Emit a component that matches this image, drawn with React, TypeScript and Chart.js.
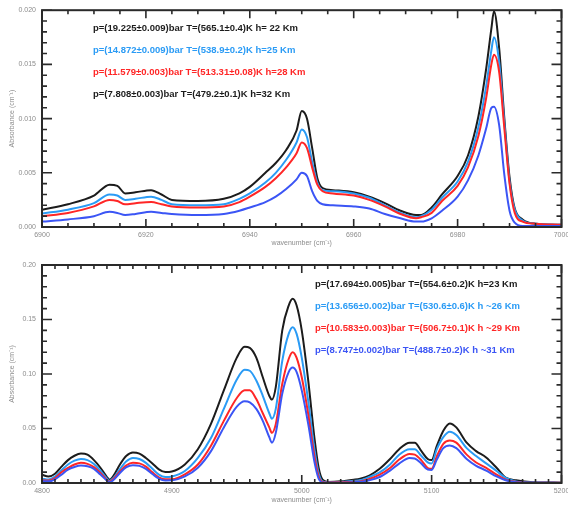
import { useEffect, useRef } from "react";
import { Chart, registerables } from "chart.js";

Chart.register(...registerables);

// ---------- Top panel data ----------
const topWave = [
  6900, 6905, 6910, 6913, 6914.5, 6916, 6918, 6921, 6923, 6925, 6930, 6935, 6938, 6940, 6943,
  6945, 6947, 6949, 6950, 6951, 6952, 6953, 6954, 6956, 6960, 6963, 6966, 6969, 6972, 6973,
  6975, 6977, 6980, 6982, 6984, 6985.5, 6986.5, 6987, 6988, 6989, 6990, 6991, 6992.5, 6995, 7000,
];
const topBlack = [
  0.0016, 0.0021, 0.0029, 0.0039, 0.0038, 0.0031, 0.0032, 0.0034, 0.003, 0.0025, 0.0024, 0.0026,
  0.0031, 0.0037, 0.005, 0.0059, 0.0071, 0.0089, 0.0107, 0.01, 0.0073, 0.0045, 0.0036, 0.0034,
  0.0032, 0.0028, 0.0022, 0.0015, 0.0011, 0.0011, 0.0018, 0.003, 0.0047, 0.0066, 0.0102, 0.0146,
  0.0183, 0.0199, 0.0165, 0.01, 0.0046, 0.0017, 0.0007, 0.0003, 0.0002,
];
const topLightBlue = [
  0.00125, 0.0016, 0.0022, 0.003, 0.0029, 0.0025, 0.0026, 0.0028, 0.0025, 0.0021, 0.002, 0.0021,
  0.0026, 0.0031, 0.0041, 0.005, 0.0062, 0.0078, 0.009, 0.0083, 0.006, 0.0041, 0.0034, 0.0033,
  0.0031, 0.0027, 0.002, 0.0013, 0.0009, 0.001, 0.0016, 0.0027, 0.0042, 0.006, 0.0092, 0.013,
  0.0163, 0.0175, 0.0152, 0.0096, 0.0042, 0.0016, 0.0006, 0.0003, 0.0002,
];
const topRed = [
  0.001, 0.0013, 0.0019, 0.0025, 0.0024, 0.0021, 0.0022, 0.0023, 0.0021, 0.0019, 0.0018, 0.0019,
  0.0023, 0.0028, 0.0037, 0.0045, 0.0055, 0.0068, 0.0078, 0.0073, 0.0055, 0.0039, 0.0033, 0.0031,
  0.0029, 0.0025, 0.0019, 0.0012, 0.0008, 0.0009, 0.0013, 0.0024, 0.0038, 0.0055, 0.0084, 0.0119,
  0.015, 0.0159, 0.0143, 0.0091, 0.004, 0.0013, 0.0005, 0.0003, 0.0002,
];
const topBlue = [
  0.0005, 0.0007, 0.001, 0.0014, 0.0013, 0.0011, 0.0012, 0.0014, 0.0013, 0.0012, 0.0011, 0.0012,
  0.0015, 0.0018, 0.0023, 0.0028, 0.0035, 0.0044, 0.005, 0.0047, 0.0033, 0.0024, 0.0021, 0.002,
  0.0019, 0.0017, 0.0012, 0.0008, 0.0005, 0.0005, 0.0008, 0.0015, 0.0028, 0.0043, 0.0066, 0.0091,
  0.011, 0.0111, 0.0094, 0.0048, 0.0015, 0.0004, 0.0001, 0.0001, 0.0001,
];
const topLabels = [
  "p=(19.225±0.009)bar T=(565.1±0.4)K h= 22 Km",
  "p=(14.872±0.009)bar T=(538.9±0.2)K h=25 Km",
  "p=(11.579±0.003)bar T=(513.31±0.08)K h=28 Km",
  "p=(7.808±0.003)bar T=(479.2±0.1)K h=32 Km",
];

// ---------- Bottom panel data ----------
const botWave = [
  4800, 4805, 4810, 4815, 4820, 4825, 4830, 4835, 4840, 4845, 4850, 4852, 4855, 4860, 4865, 4870,
  4875, 4880, 4885, 4890, 4895, 4900, 4910, 4920, 4930, 4940, 4950, 4956, 4960, 4965, 4970, 4975,
  4977, 4980, 4985, 4990, 4993, 4996, 5000, 5005, 5010, 5013, 5016, 5020, 5030, 5040, 5045, 5052,
  5060, 5068, 5075, 5083, 5087, 5092, 5097, 5100, 5104, 5109, 5114, 5119, 5127, 5134, 5142, 5150,
  5157, 5165, 5178, 5200,
];
const botBlack = [
  0.0075, 0.006, 0.0085, 0.015, 0.021, 0.025, 0.027, 0.026, 0.021, 0.014, 0.0055, 0.003, 0.0065,
  0.017, 0.025, 0.028, 0.027, 0.023, 0.018, 0.0125, 0.01, 0.0105, 0.017, 0.031, 0.054, 0.085,
  0.115, 0.125, 0.124, 0.115, 0.097, 0.08, 0.0765, 0.088, 0.14, 0.163, 0.169, 0.163, 0.14, 0.094,
  0.039, 0.014, 0.003, 0.001, 0.0015, 0.003, 0.004, 0.0068, 0.013, 0.022, 0.031, 0.037, 0.037,
  0.0295, 0.022, 0.021, 0.034, 0.048, 0.0547, 0.051, 0.037, 0.0295, 0.0234, 0.014, 0.005, 0.0025,
  0.0007, 0.0003,
];
const botLightBlue = [
  0.004, 0.0031, 0.006, 0.0116, 0.017, 0.0205, 0.022, 0.021, 0.0175, 0.0113, 0.004, 0.0018, 0.0046,
  0.0128, 0.02, 0.023, 0.022, 0.0185, 0.013, 0.0077, 0.0055, 0.006, 0.011, 0.023, 0.041, 0.068,
  0.095, 0.104, 0.103, 0.094, 0.08, 0.064, 0.059, 0.068, 0.112, 0.137, 0.143, 0.137, 0.115, 0.075,
  0.029, 0.009, 0.0015, 0.0008, 0.001, 0.002, 0.0025, 0.0055, 0.0098, 0.017, 0.026, 0.031, 0.031,
  0.025, 0.019, 0.018, 0.031, 0.042, 0.047, 0.044, 0.032, 0.025, 0.018, 0.011, 0.0046, 0.0015,
  0.0004, 0.0002,
];
const botRed = [
  0.0025, 0.0022, 0.0046, 0.0098, 0.0138, 0.017, 0.0185, 0.0175, 0.0145, 0.0092, 0.0028, 0.001,
  0.0037, 0.0107, 0.0163, 0.0185, 0.018, 0.015, 0.0098, 0.0052, 0.0034, 0.0035, 0.008, 0.017,
  0.034, 0.057, 0.078, 0.085, 0.085, 0.077, 0.064, 0.051, 0.046, 0.054, 0.091, 0.114, 0.12, 0.115,
  0.097, 0.063, 0.023, 0.006, 0.001, 0.0005, 0.0006, 0.0012, 0.0015, 0.0037, 0.0077, 0.0138,
  0.0215, 0.0267, 0.026, 0.021, 0.0138, 0.013, 0.0245, 0.036, 0.039, 0.037, 0.026, 0.019, 0.0138,
  0.0077, 0.003, 0.001, 0.0003, 0.0002,
];
const botBlue = [
  0.0015, 0.0015, 0.0034, 0.0077, 0.0123, 0.0147, 0.016, 0.0153, 0.013, 0.0077, 0.0022, 0.0006,
  0.0028, 0.0092, 0.0145, 0.0163, 0.0157, 0.013, 0.0083, 0.004, 0.0024, 0.0025, 0.006, 0.014,
  0.029, 0.051, 0.07, 0.075, 0.074, 0.068, 0.057, 0.042, 0.037, 0.046, 0.082, 0.102, 0.106, 0.102,
  0.085, 0.054, 0.018, 0.004, 0.0005, 0.0003, 0.0003, 0.0008, 0.001, 0.0025, 0.0055, 0.0114,
  0.0178, 0.023, 0.0225, 0.018, 0.0123, 0.012, 0.0215, 0.032, 0.0345, 0.032, 0.022, 0.016, 0.0114,
  0.006, 0.0025, 0.0006, 0.0002, 0.0001,
];
const botLabels = [
  "p=(17.694±0.005)bar T=(554.6±0.2)K h=23 Km",
  "p=(13.656±0.002)bar T=(530.6±0.6)K h ~26 Km",
  "p=(10.583±0.003)bar T=(506.7±0.1)K h ~29 Km",
  "p=(8.747±0.002)bar T=(488.7±0.2)K h ~31 Km",
];

const xTitle = "wavenumber (cm⁻¹)";
const yTitle = "Absorbance (cm⁻¹)";

const lineColors = ["#1c1c1c", "#2a9bf5", "#ff2626", "#3b55f5"];
const topTextColors = ["#1c1c1c", "#2a9bf5", "#ff2626", "#1c1c1c"];
const botTextColors = ["#1c1c1c", "#2a9bf5", "#ff2626", "#3b55f5"];

const FONT = "'Liberation Sans', Arial, sans-serif";

const frameTicks = {
  id: "frameTicks",
  afterDatasetsDraw(chart: any, _args: any, opts: any) {
    const { ctx, chartArea: a } = chart;
    const x = chart.scales.x;
    const y = chart.scales.y;
    ctx.save();
    ctx.strokeStyle = "#2a2a2a";
    ctx.lineWidth = 2;
    ctx.strokeRect(a.left, a.top, a.right - a.left, a.bottom - a.top);
    ctx.lineWidth = 1.6;
    const nx = Math.round((x.max - x.min) / opts.xMinor);
    const perX = Math.round(opts.xMajor / opts.xMinor);
    for (let i = 0; i <= nx; i++) {
      const v = x.min + i * opts.xMinor;
      const px = x.getPixelForValue(v);
      const L = i % perX === 0 ? 8 : 4;
      ctx.beginPath();
      ctx.moveTo(px, a.bottom);
      ctx.lineTo(px, a.bottom - L);
      ctx.moveTo(px, a.top);
      ctx.lineTo(px, a.top + L);
      ctx.stroke();
    }
    const ny = Math.round((y.max - y.min) / opts.yMinor);
    const perY = Math.round(opts.yMajor / opts.yMinor);
    for (let i = 0; i <= ny; i++) {
      const v = y.min + i * opts.yMinor;
      const py = y.getPixelForValue(v);
      const L = i % perY === 0 ? 10 : 5;
      ctx.beginPath();
      ctx.moveTo(a.left, py);
      ctx.lineTo(a.left + L, py);
      ctx.moveTo(a.right, py);
      ctx.lineTo(a.right - L, py);
      ctx.stroke();
    }
    ctx.restore();
  },
};

const textLegend = {
  id: "textLegend",
  afterDraw(chart: any, _args: any, opts: any) {
    const { ctx } = chart;
    ctx.save();
    ctx.font = opts.font;
    ctx.textBaseline = "middle";
    ctx.textAlign = "left";
    opts.labels.forEach((t: string, i: number) => {
      ctx.fillStyle = opts.colors[i];
      ctx.fillText(t, opts.x, opts.y + i * opts.dy);
    });
    ctx.restore();
  },
};

function makeConfig(p: any) {
  const series = [p.black, p.lightBlue, p.red, p.blue];
  return {
    type: "line",
    data: {
      datasets: series.map((vals: number[], k: number) => ({
        label: p.labels[k],
        data: p.wave.map((w: number, i: number) => ({ x: w, y: vals[i] })),
        borderColor: lineColors[k],
        borderWidth: 2,
        pointRadius: 0,
        fill: false,
        cubicInterpolationMode: "monotone",
        order: 4 - k,
      })),
    },
    options: {
      responsive: false,
      animation: false,
      events: [],
      layout: { padding: { top: p.padTop, right: 6.5, left: 0, bottom: 0 } },
      plugins: {
        legend: { display: false },
        tooltip: { enabled: false },
        frameTicks: { xMinor: p.xMinor, xMajor: p.xMajor, yMinor: p.yMinor, yMajor: p.yMajor },
        textLegend: {
          labels: p.labels,
          colors: p.textColors,
          x: p.legX,
          y: p.legY,
          dy: 22,
          font: `bold 9.5px ${FONT}`,
        },
      },
      scales: {
        x: {
          type: "linear",
          min: p.xMin,
          max: p.xMax,
          grid: { display: false, drawTicks: false },
          border: { display: false },
          afterFit: (s: any) => {
            s.height = p.xAxisH;
            s.paddingRight = 0;
            s.paddingLeft = 0;
          },
          ticks: {
            stepSize: p.xMajor,
            padding: 4,
            color: "#8c8c8c",
            font: { family: FONT, size: 7 },
            maxRotation: 0,
            callback: (v: number) => String(v),
          },
          title: {
            display: true,
            text: xTitle,
            color: "#8c8c8c",
            font: { family: FONT, size: 7 },
            padding: { top: 0, bottom: p.xTitlePad },
          },
        },
        y: {
          type: "linear",
          min: p.yMin,
          max: p.yMax,
          grid: { display: false, drawTicks: false },
          border: { display: false },
          afterFit: (s: any) => {
            s.width = 42;
          },
          ticks: {
            stepSize: p.yMajor,
            padding: 6,
            color: "#8c8c8c",
            font: { family: FONT, size: 7 },
            callback: (v: number) => v.toFixed(p.yDec),
          },
          title: {
            display: true,
            text: yTitle,
            color: "#8c8c8c",
            font: { family: FONT, size: 7 },
            padding: { top: 8, bottom: 0 },
          },
        },
      },
    },
    plugins: [frameTicks, textLegend],
  };
}

function Panel(props: { cfg: any; height: number }) {
  const ref = useRef<HTMLCanvasElement | null>(null);
  useEffect(() => {
    if (!ref.current) return;
    const chart = new Chart(ref.current, props.cfg);
    return () => chart.destroy();
  }, []);
  return (
    <canvas
      ref={ref}
      width={568}
      height={props.height}
      style={{ display: "block", width: 568, height: props.height }}
    />
  );
}

export default function App() {
  const topCfg = makeConfig({
    wave: topWave,
    black: topBlack,
    lightBlue: topLightBlue,
    red: topRed,
    blue: topBlue,
    labels: topLabels,
    textColors: topTextColors,
    xMin: 6900,
    xMax: 7000,
    xMajor: 20,
    xMinor: 5,
    yMin: 0,
    yMax: 0.02,
    yMajor: 0.005,
    yMinor: 0.001,
    yDec: 3,
    padTop: 8,
    xAxisH: 23,
    xTitlePad: 3,
    legX: 93,
    legY: 28,
  });
  const botCfg = makeConfig({
    wave: botWave,
    black: botBlack,
    lightBlue: botLightBlue,
    red: botRed,
    blue: botBlue,
    labels: botLabels,
    textColors: botTextColors,
    xMin: 4800,
    xMax: 5200,
    xMajor: 100,
    xMinor: 10,
    yMin: 0,
    yMax: 0.2,
    yMajor: 0.05,
    yMinor: 0.01,
    yDec: 2,
    padTop: 15,
    xAxisH: 22,
    xTitlePad: 1,
    legX: 315,
    legY: 34,
  });
  return (
    <div style={{ position: "absolute", left: 0, top: 0, width: 568, height: 505, background: "#fff" }}>
      <Panel cfg={topCfg} height={250} />
      <Panel cfg={botCfg} height={255} />
    </div>
  );
}
